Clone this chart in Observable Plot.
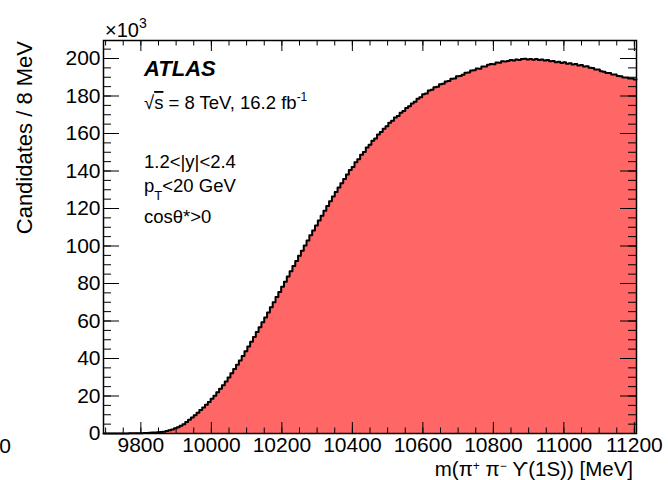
<!DOCTYPE html>
<html>
<head>
<meta charset="utf-8">
<script src="https://cdn.jsdelivr.net/npm/d3@7"></script>
<script src="https://cdn.jsdelivr.net/npm/@observablehq/plot@0.6"></script>
<style>
  body { margin: 0; background: #fff; }
  #chart { position: relative; width: 668px; height: 480px; }
</style>
</head>
<body>
<div id="chart"></div>
<script>
// ---- data (candidates per 8 MeV, in units of 10^3) ----
const binStart = 9694;   // MeV
const binWidth = 8;      // MeV
const counts = [
  0, 0, 0, 0, 0, 0, 0.02, 0.04, 0.06, 0.08, 0.1, 0.13, 0.16, 0.2, 0.26, 0.33, 0.42, 0.5, 0.6, 0.72,
  0.85, 1.0, 1.4, 1.8, 2.2, 2.8, 3.4, 4.1, 5.0, 6.1, 7.3, 8.6, 9.8, 11.1, 12.5, 13.9, 15.3, 16.8, 18.5, 20.2,
  22.0, 23.9, 25.8, 27.8, 29.9, 32.1, 34.4, 36.7, 39.0, 41.4, 43.9, 46.4, 48.9, 51.5, 54.1, 56.7, 59.3, 61.9, 64.6, 67.3,
  70.0, 72.8, 75.5, 78.3, 81.0, 83.8, 86.5, 89.3, 92.0, 94.8, 97.5, 100.3, 103.0, 105.7, 108.3, 110.9, 113.6, 116.2, 118.8, 121.4,
  123.9, 126.4, 128.8, 131.2, 133.5, 135.8, 138.1, 140.5, 142.2, 144.7, 146.3, 148.7, 150.2, 152.5, 154.0, 156.1, 157.4, 159.5, 160.8, 162.6,
  163.9, 165.7, 166.8, 168.5, 169.4, 171.1, 172.0, 173.6, 174.5, 176.0, 177.0, 178.6, 179.4, 180.9, 181.4, 182.9, 183.3, 184.7, 185.0, 186.3,
  186.6, 187.8, 188.0, 189.2, 189.4, 190.6, 190.7, 191.3, 192.4, 192.5, 193.6, 193.7, 194.7, 194.6, 195.8, 195.7, 196.7, 197.1, 197.0, 197.9,
  197.8, 198.6, 198.4, 198.7, 199.2, 198.9, 199.5, 199.2, 199.7, 199.9, 199.5, 199.8, 199.4, 199.7, 199.2, 199.5, 198.9, 199.2, 198.5, 198.7,
  198.0, 198.3, 197.6, 198.0, 197.2, 197.5, 196.8, 197.1, 196.3, 196.5, 195.7, 195.9, 195.1, 195.0, 194.2, 194.1, 193.2, 193.0, 192.3, 192.3,
  191.5, 191.5, 190.7, 190.6, 189.9, 189.9, 189.3, 189.4, 188.8
];
const xDomain = [9694, 11206];
const yDomain = [0, 209.6];
const xTicks = [9800, 10000, 10200, 10400, 10600, 10800, 11000, 11200];
const yTicks = [0, 20, 40, 60, 80, 100, 120, 140, 160, 180, 200];
const xMinor = d3.range(9700, 11201, 50);
const yMinor = d3.range(0, 206, 5);

// step outline / fill points
const steps = counts.flatMap((c, i) => {
  const x1 = binStart + i * binWidth;
  const x2 = Math.min(x1 + binWidth, xDomain[1]);
  return [{x: x1, y: c}, {x: x2, y: c}];
});

const font = "'Liberation Sans', Arial, Helvetica, sans-serif";
const W = 668, H = 480, mL = 103, mR = 32, mT = 40, mB = 47;
const fw = W - mL - mR, fh = H - mT - mB;   // frame size in px
const xMaj = 11, xMin = 5.5, yMaj = 16, yMin = 8;  // tick lengths in px

const plot = Plot.plot({
  width: W,
  height: H,
  marginLeft: mL,
  marginRight: mR,
  marginTop: mT,
  marginBottom: mB,
  style: {fontFamily: font, fontSize: "21px", color: "black", background: "white", overflow: "visible"},
  x: {domain: xDomain},
  y: {domain: yDomain},
  marks: [
    Plot.areaY(steps, {x: "x", y1: 0, y2: "y", fill: "#ff6666"}),
    Plot.line(steps, {x: "x", y: "y", stroke: "black", strokeWidth: 2}),
    // inward ticks: bottom & top
    Plot.tickX(xTicks, {x: d => d, insetTop: fh - xMaj, stroke: "black"}),
    Plot.tickX(xMinor, {x: d => d, insetTop: fh - xMin, stroke: "black"}),
    Plot.tickX(xTicks, {x: d => d, insetBottom: fh - xMaj, stroke: "black"}),
    Plot.tickX(xMinor, {x: d => d, insetBottom: fh - xMin, stroke: "black"}),
    // inward ticks: left & right
    Plot.tickY(yTicks, {y: d => d, insetRight: fw - yMaj, stroke: "black"}),
    Plot.tickY(yMinor, {y: d => d, insetRight: fw - yMin, stroke: "black"}),
    Plot.tickY(yTicks, {y: d => d, insetLeft: fw - yMaj, stroke: "black"}),
    Plot.tickY(yMinor, {y: d => d, insetLeft: fw - yMin, stroke: "black"}),
    // tick labels
    Plot.axisX(xTicks, {anchor: "bottom", tickSize: 0, tickPadding: 4, tickFormat: d => String(d), label: null}),
    Plot.axisY(yTicks, {anchor: "left", tickSize: 0, tickPadding: 3, tickFormat: d => String(d), label: null}),
    Plot.frame({stroke: "black", strokeWidth: 1.5})
  ]
});

document.getElementById("chart").appendChild(plot);

// ---- text annotations ----
const svg = d3.select(plot);
function addText(x, y, parts, opts = {}) {
  const t = svg.append("text")
    .attr("x", x).attr("y", y)
    .attr("font-family", font)
    .attr("font-size", opts.size || 19)
    .attr("fill", "black")
    .attr("text-anchor", opts.anchor || "start");
  if (opts.weight) t.attr("font-weight", opts.weight);
  if (opts.style) t.attr("font-style", opts.style);
  if (opts.rotate) t.attr("transform", `rotate(${opts.rotate},${x},${y})`);
  for (const p of parts) {
    const s = t.append("tspan").text(p.t);
    if (p.size) s.attr("font-size", p.size);
    if (p.dy) s.attr("dy", p.dy);
    if (p.deco) s.attr("text-decoration", p.deco);
  }
  return t;
}

// x10^3 multiplier
addText(105, 37, [{t: "×10"}, {t: "3", size: 14, dy: -9}], {size: 20});
// y title
addText(32, 41, [{t: "Candidates / 8 MeV"}], {size: 22, anchor: "end", rotate: -90});
// x title
addText(633, 476, [{t: "m(π"}, {t: "+", size: 12, dy: -6}, {t: " π", dy: 6}, {t: "−", size: 12, dy: -6}, {t: " ϒ(1S)) [MeV]", dy: 6}], {size: 20.5, anchor: "end"});
// stray clipped label at far left
addText(11, 453, [{t: "0"}], {size: 21, anchor: "end"});

addText(144, 76, [{t: "ATLAS"}], {size: 22, weight: "bold", style: "italic"});
addText(144, 109, [{t: "√"}, {t: "s", deco: "overline"}, {t: " = 8 TeV, 16.2 fb"}, {t: "-1", size: 12, dy: -8}], {size: 18.5});
addText(144, 168, [{t: "1.2<|y|<2.4"}], {size: 18.5});
addText(144, 192, [{t: "p"}, {t: "T", size: 13, dy: 8}, {t: "<20 GeV", dy: -8}], {size: 18.5});
addText(144, 223, [{t: "cosθ*>0"}], {size: 18.5});
</script>
</body>
</html>
